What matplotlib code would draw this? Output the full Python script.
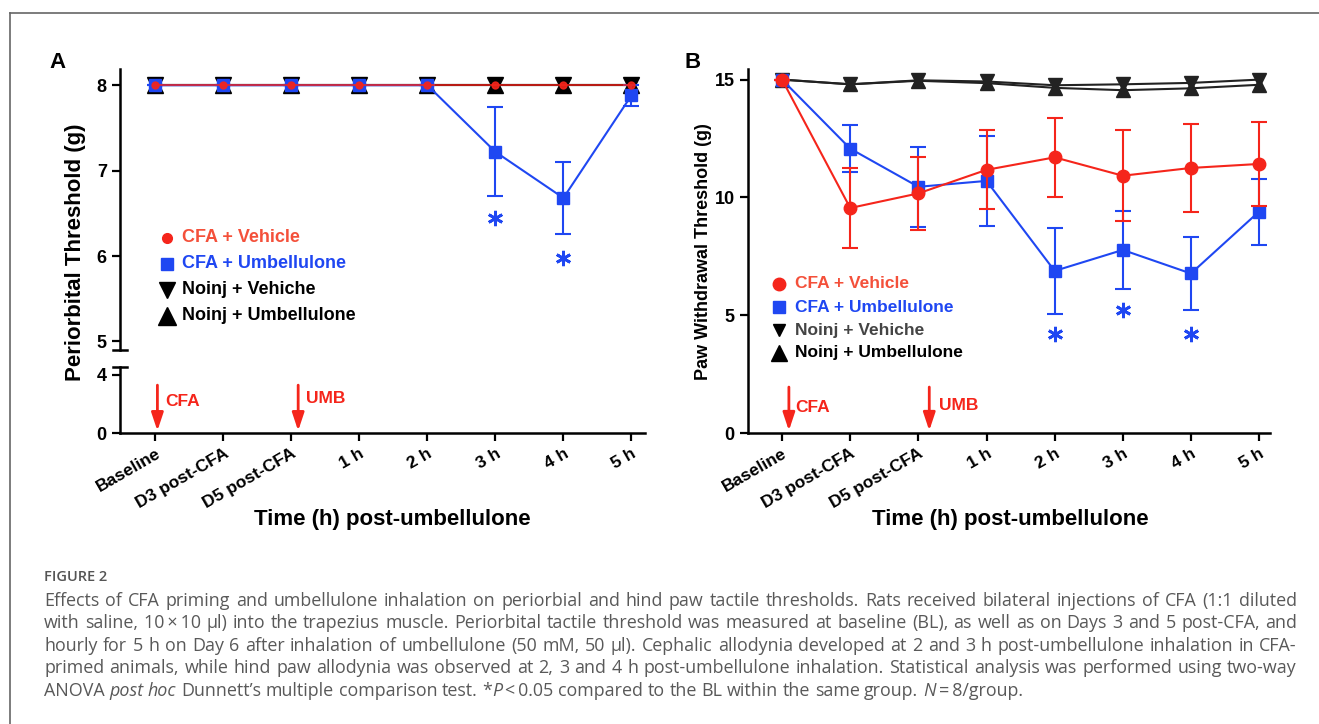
import numpy as np
import matplotlib
matplotlib.use('Agg')
import matplotlib.pyplot as plt
from matplotlib.lines import Line2D

W, H = 1319, 724
RED = '#f5251b'
RED_TXT = '#f4503a'
BLUE = '#1f47f2'

time_labels = ['Baseline', 'D3 post-CFA', 'D5 post-CFA', '1 h', '2 h', '3 h', '4 h', '5 h']

# panel A - periorbital threshold (g)
a_cfa_veh = [8, 8, 8, 8, 8, 8, 8, 8]
a_cfa_umb = [8, 8, 8, 8, 8, 7.22, 6.68, 7.88]
a_cfa_umb_err = [0, 0, 0, 0, 0, 0.52, 0.42, 0.12]
a_noinj_veh = [8, 8, 8, 8, 8, 8, 8, 8]
a_noinj_umb = [8, 8, 8, 8, 8, 8, 8, 8]
a_star_x = [5, 6]
a_star_y = [6.45, 5.98]

# panel B - paw withdrawal threshold (g)
b_cfa_veh = [15.0, 9.55, 10.17, 11.17, 11.7, 10.92, 11.25, 11.42]
b_cfa_veh_err = [0, 1.7, 1.55, 1.68, 1.67, 1.93, 1.85, 1.78]
b_cfa_umb = [15.0, 12.07, 10.45, 10.7, 6.88, 7.77, 6.77, 9.4]
b_cfa_umb_err = [0, 1.0, 1.7, 1.9, 1.83, 1.67, 1.55, 1.4]
b_noinj_veh = [15.0, 14.8, 14.97, 14.92, 14.76, 14.8, 14.86, 15.0]
b_noinj_umb = [15.0, 14.8, 14.95, 14.85, 14.65, 14.55, 14.63, 14.78]
b_star_x = [4, 5, 6]
b_star_y = [4.2, 5.2, 4.2]

legend_labels = ['CFA + Vehicle', 'CFA + Umbellulone', 'Noinj + Vehiche', 'Noinj + Umbellulone']

caption_lines = [
    "Effects of CFA priming and umbellulone inhalation on periorbial and hind paw tactile thresholds. Rats received bilateral injections of CFA (1:1 diluted",
    "with saline, 10\u2009\u00d7\u200910 \u03bcl) into the trapezius muscle. Periorbital tactile threshold was measured at baseline (BL), as well as on Days 3 and 5 post-CFA, and",
    "hourly for 5 h on Day 6 after inhalation of umbellulone (50 mM, 50 \u03bcl). Cephalic allodynia developed at 2 and 3 h post-umbellulone inhalation in CFA-",
    "primed animals, while hind paw allodynia was observed at 2, 3 and 4 h post-umbellulone inhalation. Statistical analysis was performed using two-way",
    "ANOVA |post hoc| Dunnett\u2019s multiple comparison test. *|P|\u2009<\u20090.05 compared to the BL within the same group. |N|\u2009=\u20098/group.",
]

plt.rcParams['font.family'] = ['Liberation Sans', 'DejaVu Sans']
plt.rcParams['font.weight'] = 'bold'

fig = plt.figure(figsize=(W / 100, H / 100), dpi=100)


def box(x0, y0, x1, y1):
    # pixel box (top-left origin) -> figure rect
    return [x0 / W, 1 - y1 / H, (x1 - x0) / W, (y1 - y0) / H]


def style_axis(ax):
    for s in ['top', 'right']:
        ax.spines[s].set_visible(False)
    for s in ['left', 'bottom']:
        ax.spines[s].set_linewidth(1.8)
    ax.tick_params(width=1.6, length=6, labelsize=13)


x = np.arange(len(time_labels))

# ---------- panel A ----------
axA = fig.add_axes(box(120, 69, 645, 350))
axA0 = fig.add_axes(box(120, 367, 645, 433))
for ax in (axA, axA0):
    style_axis(ax)
    ax.set_xlim(-0.52, 7.2)
axA.set_ylim(4.9, 8.19)
axA.set_yticks([5, 6, 7, 8])
axA.spines['bottom'].set_visible(False)
axA.set_xticks([])
axA0.set_ylim(0, 4.55)
axA0.set_yticks([0, 4])
axA0.set_xticks(x)
axA0.set_xticklabels(time_labels, rotation=30, ha='right', rotation_mode='anchor', fontsize=12.5)

axA.plot(x, a_noinj_umb, color='black', lw=1.5, marker='^', ms=12, zorder=3, clip_on=False)
axA.plot(x, a_noinj_veh, color='black', lw=1.5, marker='v', ms=12, zorder=3, clip_on=False)
axA.errorbar(x, a_cfa_umb, yerr=a_cfa_umb_err, color=BLUE, lw=1.5, marker='s', ms=8,
             capsize=6, capthick=1.5, elinewidth=1.5, zorder=4, clip_on=False)
axA.plot(x, a_cfa_veh, color=RED, lw=1.2, marker='o', ms=5, zorder=5, alpha=0.9, clip_on=False)
axA.plot(a_star_x, a_star_y, ls='none', marker=(6, 2, 0), ms=11, mew=2, color=BLUE)

# break marks
for yy in (350, 367):
    fig.add_artist(Line2D([113 / W, 127 / W], [1 - yy / H] * 2, color='black', lw=1.8))

# injection arrows
arrow = dict(arrowstyle='-|>,head_width=0.3,head_length=0.9', color=RED, lw=2,
             mutation_scale=12, shrinkA=0, shrinkB=0)
axA0.annotate('', xy=(0.03, 0.15), xytext=(0.03, 3.3), arrowprops=arrow)
axA0.annotate('', xy=(2.1, 0.15), xytext=(2.1, 3.3), arrowprops=arrow)
axA0.text(0.15, 2.2, 'CFA', color=RED, fontsize=12.5, va='center')
axA0.text(2.22, 2.35, 'UMB', color=RED, fontsize=12.5, va='center')

fig.text(75 / W, 1 - 252 / H, 'Periorbital Threshold (g)', rotation=90, fontsize=16,
         ha='center', va='center')
fig.text(392 / W, 1 - 520 / H, 'Time (h) post-umbellulone', fontsize=16, ha='center', va='center')
fig.text(58 / W, 1 - 62 / H, 'A', fontsize=16, ha='center', va='center')

# legend A
legA_y = [238, 264, 290, 316]
legA_mk = [('o', RED, 7), ('s', BLUE, 9), ('v', 'black', 11), ('^', 'black', 13)]
legA_col = [RED_TXT, BLUE, 'black', 'black']
for i, lab in enumerate(legend_labels):
    m, c, s = legA_mk[i]
    fig.add_artist(Line2D([167 / W], [1 - legA_y[i] / H], marker=m, color=c, ms=s, ls='none'))
    fig.text(182 / W, 1 - legA_y[i] / H, lab, color=legA_col[i], fontsize=13, va='center')

# ---------- panel B ----------
axB = fig.add_axes(box(748, 69, 1270, 433))
style_axis(axB)
axB.set_xlim(-0.5, 7.16)
axB.set_ylim(0, 15.45)
axB.set_yticks([0, 5, 10, 15])
axB.set_xticks(x)
axB.set_xticklabels(time_labels, rotation=30, ha='right', rotation_mode='anchor', fontsize=12.5)

axB.plot(x, b_noinj_umb, color='#222222', lw=1.5, marker='^', ms=10, zorder=3)
axB.plot(x, b_noinj_veh, color='#222222', lw=1.5, marker='v', ms=10, zorder=3)
axB.errorbar(x, b_cfa_umb, yerr=b_cfa_umb_err, color=BLUE, lw=1.5, marker='s', ms=8,
             capsize=6, capthick=1.5, elinewidth=1.5, zorder=4)
axB.errorbar(x, b_cfa_veh, yerr=b_cfa_veh_err, color=RED, lw=1.5, marker='o', ms=9,
             capsize=6, capthick=1.5, elinewidth=1.5, zorder=5)
axB.plot(b_star_x, b_star_y, ls='none', marker=(6, 2, 0), ms=11, mew=2, color=BLUE)

axB.annotate('', xy=(0.1, 0.1), xytext=(0.1, 1.95), arrowprops=arrow)
axB.annotate('', xy=(2.16, 0.1), xytext=(2.16, 1.95), arrowprops=arrow)
axB.text(0.2, 1.1, 'CFA', color=RED, fontsize=12.5, va='center')
axB.text(2.3, 1.15, 'UMB', color=RED, fontsize=12.5, va='center')

fig.text(703 / W, 1 - 252 / H, 'Paw Withdrawal Threshold (g)', rotation=90, fontsize=13,
         ha='center', va='center')
fig.text(1010 / W, 1 - 520 / H, 'Time (h) post-umbellulone', fontsize=16, ha='center', va='center')
fig.text(693 / W, 1 - 62 / H, 'B', fontsize=16, ha='center', va='center')

legB_y = [284, 307, 330, 353]
legB_mk = [('o', RED, 9), ('s', BLUE, 8), ('v', 'black', 8), ('^', 'black', 11)]
legB_col = [RED_TXT, BLUE, '#444444', 'black']
for i, lab in enumerate(legend_labels):
    m, c, s = legB_mk[i]
    fig.add_artist(Line2D([779 / W], [1 - legB_y[i] / H], marker=m, color=c, ms=s, ls='none'))
    fig.text(795 / W, 1 - legB_y[i] / H, lab, color=legB_col[i], fontsize=12.5, va='center')

# ---------- frame + caption ----------
fig.add_artist(Line2D([10 / W, 10 / W], [0, 1 - 13 / H], color='#666666', lw=1.2))
fig.add_artist(Line2D([10 / W, 1], [1 - 13 / H, 1 - 13 / H], color='#666666', lw=1.2))

fig.text(44 / W, 1 - 577 / H, 'FIGURE 2', fontsize=10.5, color='#555555', va='center',
         family=['Open Sans', 'DejaVu Sans'], weight='semibold')

renderer = fig.canvas.get_renderer()
cap_kw = dict(fontsize=10.6, color='#595959', va='center', weight='normal',
              family=['Open Sans', 'DejaVu Sans'])


def words_of(line):
    # '|' toggles italic; returns list of words, each a list of (text, italic)
    words = [[]]
    for k, seg in enumerate(line.split('|')):
        it = (k % 2 == 1)
        parts = seg.split(' ')
        for j, p in enumerate(parts):
            if j > 0:
                words.append([])
            if p:
                words[-1].append((p, it))
    return [w for w in words if w]


def piece_width(txt, it):
    t = fig.text(0, 0, txt, style='italic' if it else 'normal', **cap_kw)
    w = t.get_window_extent(renderer).width
    t.remove()
    return w


cap_x0, cap_x1 = 44, 1297
cap_y = [601, 623, 646, 668, 691]

# pick the caption size so the widest line fills the column with plain spacing
natural = max(piece_width(ln.replace('|', ''), False) for ln in caption_lines[:-1])
cap_kw['fontsize'] = cap_kw['fontsize'] * (cap_x1 - cap_x0) / natural * 0.995
space_w = piece_width('a a', False) - piece_width('aa', False)

for li, line in enumerate(caption_lines):
    words = words_of(line)
    widths = [[piece_width(p, it) for p, it in w] for w in words]
    total = sum(sum(w) for w in widths)
    if li < len(caption_lines) - 1:
        gap = (cap_x1 - cap_x0 - total) / (len(words) - 1)
    else:
        gap = space_w
    xx = cap_x0
    for w, ws in zip(words, widths):
        for (p, it), pw in zip(w, ws):
            fig.text(xx / W, 1 - cap_y[li] / H, p, style='italic' if it else 'normal', **cap_kw)
            xx += pw
        xx += gap

fig.savefig('out.png', dpi=100)
